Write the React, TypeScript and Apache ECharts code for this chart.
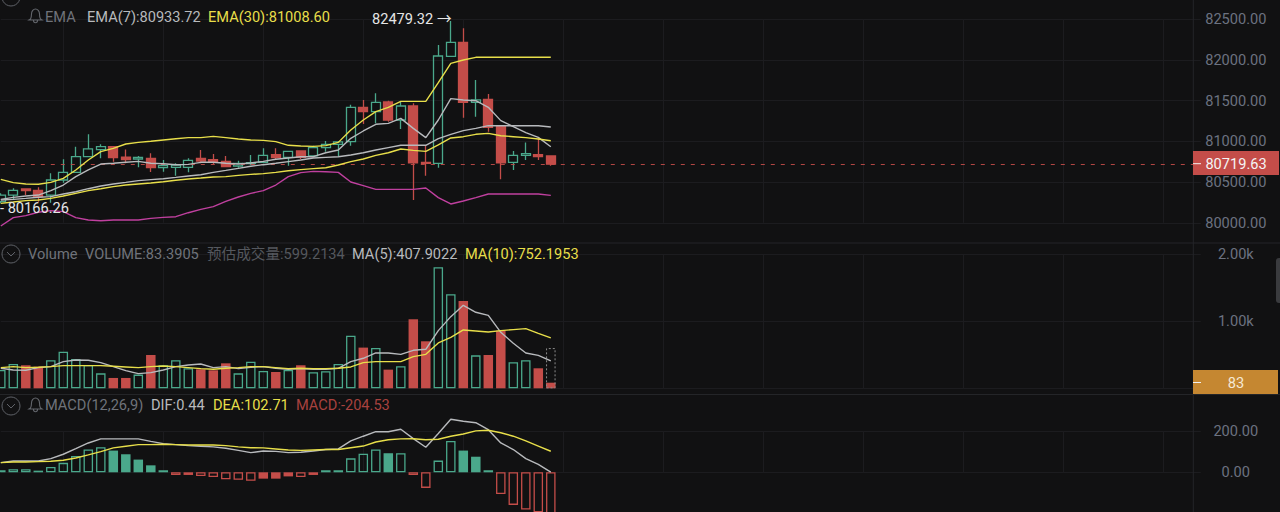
import React, { useEffect, useRef } from "react";
import * as echarts from "echarts";

const categories = Array.from({ length: 97 }, (_, i) => String(i));

// [open, close, low, high]
const candles = [
  [80260, 80341, 80239, 80362],
  [80341, 80399, 80280, 80423],
  [80415, 80395, 80341, 80423],
  [80399, 80321, 80260, 80436],
  [80341, 80526, 80247, 80608],
  [80526, 80620, 80493, 80780],
  [80620, 80812, 80620, 80935],
  [80812, 80907, 80812, 81087],
  [80898, 80935, 80792, 80964],
  [80935, 80800, 80751, 80935],
  [80808, 80776, 80731, 80902],
  [80784, 80804, 80681, 80821],
  [80792, 80677, 80624, 80853],
  [80677, 80702, 80628, 80771],
  [80681, 80710, 80579, 80731],
  [80681, 80767, 80620, 80792],
  [80792, 80759, 80731, 80894],
  [80776, 80743, 80722, 80845],
  [80755, 80690, 80690, 80821],
  [80698, 80731, 80677, 80763],
  [80726, 80739, 80710, 80833],
  [80743, 80829, 80731, 80915],
  [80837, 80800, 80780, 80915],
  [80804, 80878, 80702, 80878],
  [80882, 80804, 80780, 80882],
  [80821, 80923, 80804, 80948],
  [80923, 80964, 80874, 81005],
  [80964, 80993, 80821, 81005],
  [80997, 81419, 80948, 81451],
  [81419, 81365, 81214, 81509],
  [81365, 81480, 81222, 81590],
  [81484, 81263, 81242, 81500],
  [81263, 81435, 81152, 81488],
  [81435, 80735, 80280, 81468],
  [80743, 80731, 80579, 80948],
  [80731, 82049, 80677, 82184],
  [82045, 82217, 82045, 82479.32],
  [82217, 81480, 81292, 82389],
  [81480, 81509, 81304, 81754],
  [81517, 81173, 81120, 81582],
  [81189, 80735, 80534, 81189],
  [80743, 80829, 80649, 80882],
  [80829, 80849, 80771, 80988],
  [80837, 80812, 80771, 81050],
  [80821, 80719.63, 80702, 80821],
];

const bollUpper = [
  80534, 80493, 80477, 80473, 80497, 80546, 80649, 80771, 80874, 80915, 80968, 80988, 81001, 81017, 81033,
  81046, 81046, 81062, 81046, 81029, 81017, 81013, 80997, 80952, 80943, 80939, 80948, 80988, 81140, 81263,
  81365, 81419, 81492, 81492, 81492, 81721, 81959, 82000, 82033, 82033, 82033, 82033, 82033, 82033, 82033,
];
const emaFast = [
  80288, 80313, 80329, 80341, 80395, 80464, 80567, 80649, 80722, 80731, 80743, 80755, 80731, 80726, 80714,
  80718, 80743, 80743, 80731, 80722, 80735, 80755, 80780, 80796, 80812, 80812, 80861, 80894, 81038, 81128,
  81210, 81222, 81283, 81160, 81046, 81263, 81525, 81509, 81500, 81419, 81255, 81181, 81107, 81050, 80933.72,
];
const bollMid = [
  80280, 80288, 80300, 80313, 80321, 80354, 80382, 80419, 80452, 80477, 80497, 80518, 80530, 80542, 80558,
  80575, 80591, 80620, 80644, 80669, 80694, 80714, 80731, 80751, 80771, 80796, 80804, 80812, 80833, 80861,
  80894, 80923, 80952, 80952, 80952, 81033, 81087, 81132, 81160, 81193, 81193, 81193, 81193, 81193, 81177,
];
const emaSlow = [
  80239, 80255, 80272, 80280, 80300, 80329, 80362, 80395, 80419, 80444, 80464, 80477, 80489, 80505, 80522,
  80538, 80550, 80563, 80567, 80583, 80595, 80604, 80620, 80640, 80653, 80665, 80677, 80710, 80751, 80784,
  80829, 80861, 80907, 80890, 80878, 80956, 81042, 81058, 81087, 81099, 81070, 81058, 81046, 81029, 81008.6,
];
const bollLower = [
  79961, 80063, 80088, 80129, 80149, 80137, 80063, 80034, 80026, 80034, 80034, 80034, 80055, 80067, 80075,
  80124, 80165, 80198, 80264, 80317, 80362, 80395, 80464, 80567, 80616, 80632, 80628, 80620, 80501, 80456,
  80411, 80411, 80411, 80411, 80427, 80309, 80231, 80268, 80309, 80354, 80354, 80354, 80354, 80354, 80337,
];

const volumes = [
  273, 362, 343, 323, 417, 546, 437, 347, 223, 154, 154, 204, 496, 343, 417, 298, 283, 268, 372, 223, 397, 258,
  243, 273, 343, 238, 253, 362, 784, 606, 601, 278, 328, 1028, 700, 1802, 1400, 1301, 491, 496, 859, 387, 417,
  298, 83.3905,
];
const estimatedVolume = 599.2134;
const volMa5 = [
  298, 273, 268, 308, 323, 397, 422, 417, 382, 323, 263, 218, 233, 273, 323, 347, 362, 308, 323, 293, 313, 323,
  298, 283, 293, 283, 283, 298, 397, 447, 526, 526, 506, 566, 581, 859, 1067, 1236, 1132, 1087, 834, 670, 526,
  491, 407.9022,
];
const volMa10 = [
  308, 323, 308, 313, 323, 338, 338, 338, 338, 328, 318, 308, 323, 333, 323, 308, 293, 283, 298, 308, 323, 323,
  308, 293, 298, 293, 293, 298, 318, 382, 397, 397, 397, 472, 506, 675, 759, 869, 854, 839, 859, 874, 889, 819,
  752.1953,
];

const macdHist = [
  10, 15, 15, 8, 26, 46, 80, 111, 122, 106, 88, 62, 34, 10, -13, -13, -18, -23, -34, -36, -41, -31, -31, -20,
  -23, -13, 10, 10, 68, 91, 111, 93, 93, -13, -76, 57, 153, 106, 76, 10, -106, -159, -182, -195, -204.53,
];
const macdDif = [
  47, 55, 55, 55, 67, 88, 115, 143, 163, 163, 163, 163, 151, 140, 135, 130, 127, 124, 117, 107, 96, 104, 102,
  96, 98, 104, 111, 114, 153, 176, 198, 198, 210, 164, 122, 189, 259, 249, 242, 208, 143, 111, 67, 39, 0.44,
];
const macdDea = [
  47, 50, 50, 52, 54, 59, 70, 85, 101, 119, 127, 135, 135, 137, 135, 133, 133, 133, 130, 124, 120, 119, 114, 109,
  107, 109, 111, 111, 120, 128, 148, 159, 163, 164, 159, 161, 176, 187, 202, 205, 193, 176, 153, 128, 102.71,
];

const priceTicks = { min: 80000, max: 82500, interval: 500 };
const lastPrice = 80719.63;
const highLabel = "82479.32";
const lowLabel = "80166.26";

const BG = "#111112";
const GRID = "#1c1c1f";
const GREEN = "#4aa88b";
const RED = "#c44d49";
const GREY = "#b8babd";
const YELLOW = "#e8df4a";
const MAGENTA = "#c0409f";
const AXIS = "#6c7280";
const FONT = "Roboto, 'Noto Sans CJK SC', sans-serif";
const FONT_SIZE = 14.6;
const BAR = 9.5;

echarts.graphic.registerShape(
  "bell",
  echarts.graphic.extendPath(
    "M2 10 C3 8 3 6 3 5 C3 2 5 0 7 0 C9 0 11 2 11 5 C11 6 11 8 12 10 L13.5 11 L0.5 11 Z M5 11.5 C5 14.5 9 14.5 9 11.5",
    {}
  )
);

const label = (text: string, x: number, y: number, fill: string, align = "left", size = FONT_SIZE) => ({
  type: "text",
  x,
  y,
  z: 100,
  silent: true,
  style: { text, fill, font: `${size}px ${FONT}`, textAlign: align, textVerticalAlign: "middle" },
});
const hline = (y: number, stroke = "#242528") => ({
  type: "line",
  z: 1,
  silent: true,
  shape: { x1: 0, y1: y, x2: 1280, y2: y },
  style: { stroke, lineWidth: 1 },
});
const chevron = (cy: number) => [
  { type: "circle", z: 100, silent: true, shape: { cx: 11, cy, r: 9 }, style: { fill: "none", stroke: "#5f6268", lineWidth: 1 } },
  {
    type: "polyline",
    z: 100,
    silent: true,
    shape: { points: [[7, cy - 2], [11, cy + 2], [15, cy - 2]] },
    style: { fill: "none", stroke: "#5f6268", lineWidth: 1 },
  },
];
const bell = (y: number) => ({
  type: "bell",
  x: 28.5,
  y,
  z: 100,
  silent: true,
  style: { fill: "none", stroke: "#63666c", lineWidth: 1.1 },
});

const xAxisOf = (gridIndex: number) => ({
  type: "category",
  gridIndex,
  data: categories,
  boundaryGap: false,
  axisLine: { show: false },
  axisTick: { show: false },
  axisLabel: { show: false },
  splitLine: { show: true, interval: (i: number) => i % 8 === 5, lineStyle: { color: GRID, width: 1 } },
});
const yAxisOf = (gridIndex: number, min: number, max: number, interval: number, formatter: (v: number) => string) => ({
  type: "value",
  gridIndex,
  position: "right",
  min,
  max,
  interval,
  axisLine: { show: false },
  axisTick: { show: false },
  axisLabel: { align: "center", margin: 35, color: AXIS, fontFamily: FONT, fontSize: FONT_SIZE, formatter },
  splitLine: { show: true, lineStyle: { color: GRID, width: 1 } },
});
const lineOf = (data: number[], color: string, index: number) => ({
  type: "line",
  data,
  xAxisIndex: index,
  yAxisIndex: index,
  showSymbol: false,
  clip: false,
  silent: true,
  z: 5,
  lineStyle: { color, width: 1.4 },
});

export default function App() {
  const ref = useRef<HTMLDivElement>(null);
  useEffect(() => {
    document.body.style.margin = "0";
    document.body.style.background = BG;
    const chart = echarts.init(ref.current!, undefined, { renderer: "svg" });
    const volumeData = volumes.map((value, i) => {
      const [open, close] = candles[i];
      const up = close >= open;
      return {
        value,
        itemStyle: up
          ? { color: "transparent", borderColor: GREEN, borderWidth: 1.3 }
          : { color: RED, borderColor: RED, borderWidth: 0 },
      };
    });
    const macdData = macdHist.map((value, i) => {
      const rising = i === 0 ? false : value >= macdHist[i - 1];
      const colour = value >= 0 ? GREEN : RED;
      const hollow = value >= 0 ? rising : !rising;
      return {
        value,
        itemStyle: hollow
          ? { color: "transparent", borderColor: colour, borderWidth: 1.3 }
          : { color: colour, borderColor: colour, borderWidth: 0 },
      };
    });
    chart.setOption({
      animation: false,
      backgroundColor: BG,
      grid: [
        { left: 0.8, width: 1200, top: 19.3, height: 203.5 },
        { left: 0.8, width: 1200, top: 254, height: 134.3 },
        { left: 0.8, width: 1200, top: 431.3, height: 41 },
      ],
      xAxis: [xAxisOf(0), xAxisOf(1), xAxisOf(2)],
      yAxis: [
        yAxisOf(0, priceTicks.min, priceTicks.max, priceTicks.interval, (v) => v.toFixed(2)),
        yAxisOf(1, 0, 2000, 1000, (v) => (v === 0 ? "" : `${(v / 1000).toFixed(2)}k`)),
        yAxisOf(2, 0, 200, 200, (v) => v.toFixed(2)),
      ],
      series: [
        {
          type: "candlestick",
          data: candles,
          xAxisIndex: 0,
          yAxisIndex: 0,
          barWidth: BAR,
          clip: false,
          silent: true,
          z: 3,
          itemStyle: {
            color: "transparent",
            color0: RED,
            borderColor: GREEN,
            borderColor0: RED,
            borderWidth: 1.3,
          },
          markLine: {
            silent: true,
            symbol: "none",
            label: { show: false },
            lineStyle: { color: RED, type: [4, 6], width: 1, opacity: 0.9 },
            data: [{ yAxis: lastPrice }],
          },
        },
        lineOf(bollUpper, YELLOW, 0),
        lineOf(emaFast, GREY, 0),
        lineOf(bollMid, GREY, 0),
        lineOf(emaSlow, YELLOW, 0),
        lineOf(bollLower, MAGENTA, 0),
        {
          type: "bar",
          data: volumeData,
          xAxisIndex: 1,
          yAxisIndex: 1,
          barWidth: BAR,
          barGap: "-100%",
          clip: false,
          silent: true,
          z: 3,
        },
        {
          type: "bar",
          data: volumes.map((_, i) => (i === volumes.length - 1 ? estimatedVolume : null)),
          xAxisIndex: 1,
          yAxisIndex: 1,
          barWidth: BAR,
          barGap: "-100%",
          clip: false,
          silent: true,
          z: 3,
          itemStyle: { color: "transparent", borderColor: "#8a8a8a", borderWidth: 1, borderType: [2, 2] },
        },
        lineOf(volMa5, GREY, 1),
        lineOf(volMa10, YELLOW, 1),
        {
          type: "bar",
          data: macdData,
          xAxisIndex: 2,
          yAxisIndex: 2,
          barWidth: BAR,
          clip: false,
          silent: true,
          z: 3,
        },
        lineOf(macdDif, GREY, 2),
        lineOf(macdDea, YELLOW, 2),
      ],
      graphic: {
        elements: [
          hline(243),
          hline(394.5),
          { type: "line", z: 1, silent: true, shape: { x1: 1193.3, y1: 0, x2: 1193.3, y2: 512 }, style: { stroke: "#242528", lineWidth: 1 } },
          ...chevron(-3),
          bell(9),
          label("EMA", 45, 16.5, "#6f737a"),
          label("EMA(7):80933.72", 87, 16.5, GREY),
          label("EMA(30):81008.60", 208, 16.5, YELLOW),
          ...chevron(254),
          label("Volume", 28, 253.5, "#6f737a"),
          label("VOLUME:83.3905", 85, 253.5, "#6f737a"),
          label("预估成交量:599.2134", 207, 253.5, "#55585e"),
          label("MA(5):407.9022", 352, 253.5, GREY),
          label("MA(10):752.1953", 465, 253.5, YELLOW),
          ...chevron(406),
          bell(398),
          label("MACD(12,26,9)", 45, 405, "#6f737a"),
          label("DIF:0.44", 151, 405, GREY),
          label("DEA:102.71", 213, 405, YELLOW),
          label("MACD:-204.53", 296, 405, "#a8423f"),
          label(`${highLabel} →`, 372, 19, "#e6e6e6"),
          label(`- ${lowLabel}`, 0, 208, "#e6e6e6"),
          { type: "rect", z: 99, silent: true, shape: { x: 1193, y: 151, width: 86, height: 24 }, style: { fill: RED } },
          { type: "line", z: 100, silent: true, shape: { x1: 1193, y1: 163.7, x2: 1201, y2: 163.7 }, style: { stroke: "#f2f2f2", lineWidth: 1 } },
          label(lastPrice.toFixed(2), 1236, 163.5, "#f5f5f5", "center"),
          { type: "rect", z: 99, silent: true, shape: { x: 1193, y: 370, width: 85, height: 24 }, style: { fill: "#c58731" } },
          { type: "line", z: 100, silent: true, shape: { x1: 1193, y1: 382.5, x2: 1201, y2: 382.5 }, style: { stroke: "#f2f2f2", lineWidth: 1 } },
          label("83", 1236, 382.5, "#f5e9d5", "center"),
          { type: "rect", z: 99, silent: true, shape: { x: 1276, y: 258, width: 8, height: 45, r: 3 }, style: { fill: "#3a3b3e" } },
        ],
      },
    });
    return () => chart.dispose();
  }, []);
  return <div ref={ref} style={{ position: "absolute", left: 0, top: 0, width: 1280, height: 512 }} />;
}
